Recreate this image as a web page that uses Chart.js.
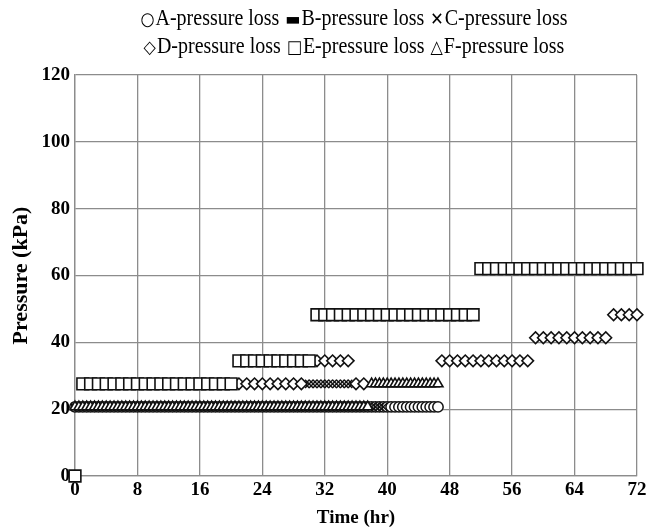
<!DOCTYPE html>
<html>
<head>
<meta charset="utf-8">
<script src="https://cdn.jsdelivr.net/npm/chart.js@4.4.0/dist/chart.umd.min.js"></script>
<style>
html,body{margin:0;padding:0;background:#fff;}
#wrap{position:relative;width:653px;height:529px;overflow:hidden;}
canvas{position:absolute;left:0;top:0;}
#legend{position:absolute;left:0;top:0;width:653px;font-family:"Liberation Serif","Times New Roman",serif;font-size:20px;color:#000;}
.row{position:absolute;left:357px;transform:translateX(-50%) scaleY(1.12);white-space:nowrap;line-height:24px;}
.sym{font-family:"DejaVu Sans",sans-serif;font-size:16px;margin-right:1px;}
.item{margin-right:6px;}
</style>
</head>
<body>
<div id="wrap">
<canvas id="c" width="653" height="529"></canvas>
<div id="legend"></div>
</div>
<script>
// ---- pressure levels (kPa): 3,4,5,6,7,9 psi ----
const P0 = 0, P3 = 20.68, P4 = 27.58, P5 = 34.47, P6 = 41.37, P7 = 48.26, P9 = 62.05;

const seriesNames = ['A-pressure loss','B-pressure loss','C-pressure loss','D-pressure loss','E-pressure loss','F-pressure loss'];
const legendSymbols = ['\u25CB','\u25AC','\u2715','\u25C7','\u25A1','\u25B3'];

const xTicks = [0,8,16,24,32,40,48,56,64,72];
const yTicks = [0,20,40,60,80,100,120];

// ---- observation times (hr) for each series, grouped by pressure level ----
const aHoursAt3psi = [0,0.5,1,1.5,2,2.5,3,3.5,4,4.5,5,5.5,6,6.5,7,7.5,8,8.5,9,9.5,10,10.5,11,11.5,12,12.5,13,13.5,14,14.5,15,15.5,16,16.5,17,17.5,18,18.5,19,19.5,20,20.5,21,21.5,22,22.5,23,23.5,24,24.5,25,25.5,26,26.5,27,27.5,28,28.5,29,29.5,30,30.5,31,31.5,32,32.5,33,33.5,34,34.5,35,35.5,36,36.5,37,37.5,38,38.5,39,39.5,40,40.5,41,41.5,42,42.5,43,43.5,44,44.5,45,45.5,46,46.5];

const bHoursAt3psi = [0,0.5,1,1.5,2,2.5,3,3.5,4,4.5,5,5.5,6,6.5,7,7.5,8,8.5,9,9.5,10,10.5,11,11.5,12,12.5,13,13.5,14,14.5,15,15.5,16,16.5,17,17.5,18,18.5,19,19.5,20,20.5,21,21.5,22,22.5,23,23.5,24,24.5,25,25.5,26,26.5,27,27.5,28,28.5,29,29.5,30,30.5,31,31.5,32,32.5,33,33.5,34,34.5,35,35.5,36,36.5,37];

const cHoursAt3psi = [0,0.5,1,1.5,2,2.5,3,3.5,4,4.5,5,5.5,6,6.5,7,7.5,8,8.5,9,9.5,10,10.5,11,11.5,12,12.5,13,13.5,14,14.5,15,15.5,16,16.5,17,17.5,18,18.5,19,19.5,20,20.5,21,21.5,22,22.5,23,23.5,24,24.5,25,25.5,26,26.5,27,27.5,28,28.5,29,29.5,30,30.5,31,31.5,32,32.5,33,33.5,34,34.5,35,35.5,36,36.5,37,37.5,38,38.5,39,39.5];
const cHoursAt4psi = [29.5,30,30.5,31,31.5,32,32.5,33,33.5,34,34.5,35,35.5];

const dHoursAt4psi = [21,22,23,24,25,26,27,28,29,36,37];
const dHoursAt5psi = [31,32,33,34,35,47,48,49,50,51,52,53,54,55,56,57,58];
const dHoursAt6psi = [59,60,61,62,63,64,65,66,67,68];
const dHoursAt7psi = [69,70,71,72];

const eHoursAt0 = [0];
const eHoursAt4psi = [1,2,3,4,5,6,7,8,9,10,11,12,13,14,15,16,17,18,19,20];
const eHoursAt5psi = [21,22,23,24,25,26,27,28,29,30];
const eHoursAt7psi = [31,32,33,34,35,36,37,38,39,40,41,42,43,44,45,46,47,48,49,50,51];
const eHoursAt9psi = [52,53,54,55,56,57,58,59,60,61,62,63,64,65,66,67,68,69,70,71,72];

const fHoursAt3psi = [0,0.5,1,1.5,2,2.5,3,3.5,4,4.5,5,5.5,6,6.5,7,7.5,8,8.5,9,9.5,10,10.5,11,11.5,12,12.5,13,13.5,14,14.5,15,15.5,16,16.5,17,17.5,18,18.5,19,19.5,20,20.5,21,21.5,22,22.5,23,23.5,24,24.5,25,25.5,26,26.5,27,27.5,28,28.5,29,29.5,30,30.5,31,31.5,32,32.5,33,33.5,34,34.5,35,35.5,36,36.5,37,37.5];
const fHoursAt4psi = [38,38.5,39,39.5,40,40.5,41,41.5,42,42.5,43,43.5,44,44.5,45,45.5,46,46.5];

// ---- build point tables from the arrays above ----
function pts(hours, kpa){ return hours.map(h => ({x:h, y:kpa})); }

const seriesA = pts(aHoursAt3psi, P3);
const seriesB = pts(bHoursAt3psi, P3);
const seriesC = [].concat(pts(cHoursAt3psi, P3), pts(cHoursAt4psi, P4));
const seriesD = [].concat(pts(dHoursAt4psi, P4), pts(dHoursAt5psi, P5), pts(dHoursAt6psi, P6), pts(dHoursAt7psi, P7));
const seriesE = [].concat(pts(eHoursAt0, P0), pts(eHoursAt4psi, P4), pts(eHoursAt5psi, P5), pts(eHoursAt7psi, P7), pts(eHoursAt9psi, P9));
const seriesF = [].concat(pts(fHoursAt3psi, P3), pts(fHoursAt4psi, P4));

// ---- legend (html text) ----
const lg = document.getElementById('legend');
[[0,1,2],[3,4,5]].forEach((idx, r) => {
  const row = document.createElement('div');
  row.className = 'row';
  row.style.top = (r === 0 ? 5 : 33) + 'px';
  row.innerHTML = idx.map(i => '<span class="item"><span class="sym">' + legendSymbols[i] + '</span>' + seriesNames[i] + '</span>').join('');
  lg.appendChild(row);
});

// dash marker for series B
function dashMarker(){
  const cv = document.createElement('canvas');
  cv.width = 9; cv.height = 5;
  const g = cv.getContext('2d');
  g.fillStyle = '#333'; g.fillRect(0,0,9,5);
  g.strokeStyle = '#000'; g.lineWidth = 1; g.strokeRect(0.5,0.5,8,4);
  return cv;
}

const ink = '#111';
function ds(label, data, style, radius, bw, order){
  return {label, data, showLine:false, pointStyle:style, pointRadius:radius, pointHoverRadius:radius,
          pointBorderColor:ink, pointBackgroundColor:'#fff', pointBorderWidth:bw, order};
}

const gridColor = '#8c8c8c';
const serif = '"Liberation Serif","Times New Roman",serif';
const tickFont = {family:serif, size:19, weight:'bold'};
const xTitleFont = {family:serif, size:19, weight:'bold'};
const yTitleFont = {family:serif, size:22, weight:'bold'};

new Chart(document.getElementById('c'), {
  type:'scatter',
  data:{datasets:[
    ds(seriesNames[0], seriesA, 'circle', 5.2, 1.5, 6),
    ds(seriesNames[1], seriesB, dashMarker(), 4, 1, 5),
    ds(seriesNames[2], seriesC, 'crossRot', 5.8, 1.4, 4),
    ds(seriesNames[3], seriesD, 'rectRot', 5.8, 1.6, 3),
    ds(seriesNames[4], seriesE, 'rect', 8.3, 1.6, 2),
    ds(seriesNames[5], seriesF, 'triangle', 5.8, 1.6, 1)
  ]},
  options:{
    responsive:false, animation:false, clip:false,
    layout:{padding:{top:75,left:0,right:16,bottom:0}},
    plugins:{legend:{display:false}, tooltip:{enabled:false}},
    scales:{
      x:{type:'linear', min:0, max:72,
         afterBuildTicks(s){ s.ticks = xTicks.map(v => ({value:v})); },
         ticks:{font:tickFont, color:'#000', padding:3, maxRotation:0},
         grid:{color:gridColor, lineWidth:1.3, drawTicks:false},
         border:{color:gridColor, width:1.3},
         title:{display:true, text:'Time (hr)', font:xTitleFont, color:'#000', padding:{top:2,bottom:0}},
         afterFit(s){ s.height = 53; }
      },
      y:{min:0, max:120,
         afterBuildTicks(s){ s.ticks = yTicks.map(v => ({value:v})); },
         ticks:{font:tickFont, color:'#000', padding:5},
         grid:{color:gridColor, lineWidth:1.3, drawTicks:false},
         border:{color:gridColor, width:1.3},
         title:{display:true, text:'Pressure (kPa)', font:yTitleFont, color:'#000', padding:{top:8,bottom:0}},
         afterFit(s){ s.width = 75; }
      }
    }
  }
});
</script>
</body>
</html>
